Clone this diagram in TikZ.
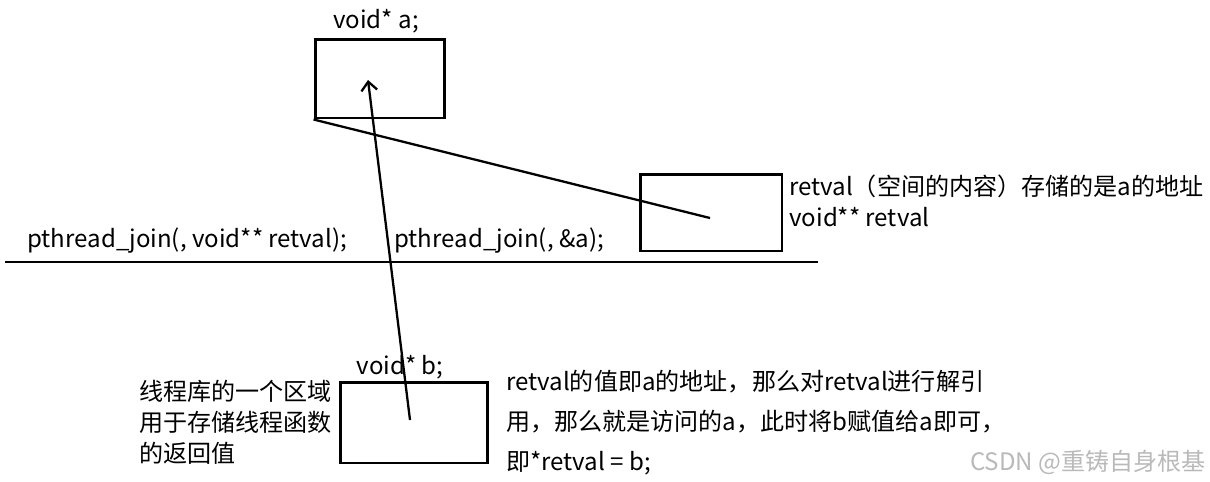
\documentclass[tikz,border=0pt]{standalone}
\usepackage{fontspec}
\setmainfont{Noto Sans CJK SC}
\usepackage{tikz}
\usetikzlibrary{arrows.meta,positioning}

\begin{document}
\begin{tikzpicture}[
    x=0.02cm, y=-0.02cm,
    membox/.style={rectangle, draw=black, line width=1.7pt, inner sep=0pt},
    code/.style={font=\fontsize{13.7}{17}\selectfont, inner sep=0pt},
    note/.style={font=\fontsize{13.7}{17.5}\selectfont, align=left, inner sep=0pt},
    pen/.style={line width=1.3pt, black}
  ]
    \useasboundingbox (0,0) rectangle (1210,481);

    \node[membox, minimum width=2.6cm, minimum height=1.58cm] (boxA) at (380,78.5) {};
    \node[code] (labA) at (376,21) {void* a;};

    \node[membox, minimum width=2.84cm, minimum height=1.54cm] (boxR) at (711,212.5) {};
    \node[note, anchor=north west] (noteR) at (789,175)
      {retval（空间的内容）存储的是a的地址\\void** retval};

    \node[membox, minimum width=2.96cm, minimum height=1.62cm] (boxB) at (414,422.5) {};
    \node[code] (labB) at (400,367) {void* b;};

    \node[code, anchor=west] (joinL) at (27,241) {pthread\_join(, void** retval);};
    \node[code, anchor=west] (joinR) at (394,241) {pthread\_join(, \&a);};

    \node[note, anchor=north west, font=\fontsize{13.7}{17.6}\selectfont] (noteL) at (139,380)
      {线程库的一个区域\\用于存储线程函数\\的返回值};
    \node[note, anchor=north west, font=\fontsize{13.7}{22.6}\selectfont] (noteB) at (506,370)
      {retval的值即a的地址，那么对retval进行解引\\用，那么就是访问的a，此时将b赋值给a即可，\\即*retval = b;};

    \node[font=\fontsize{13.7}{15}\selectfont, text=gray!55, anchor=east, inner sep=0pt] (mark) at (1206,462)
      {CSDN @重铸自身根基};

    \coordinate (lineL) at (5,262);
    \coordinate (lineR) at (818,262);
    \coordinate (aIn) at (368,80);
    \coordinate (bIn) at (410,420);
    \coordinate (rIn) at (710,218);

    % Lines
    \draw[line width=1.6pt] (lineL) -- (lineR);
    \draw[pen] (boxA.south west) -- (rIn);
    \draw[pen, -{Straight Barb[length=5pt,width=9pt]}] (bIn) -- (aIn);
\end{tikzpicture}
\end{document}
